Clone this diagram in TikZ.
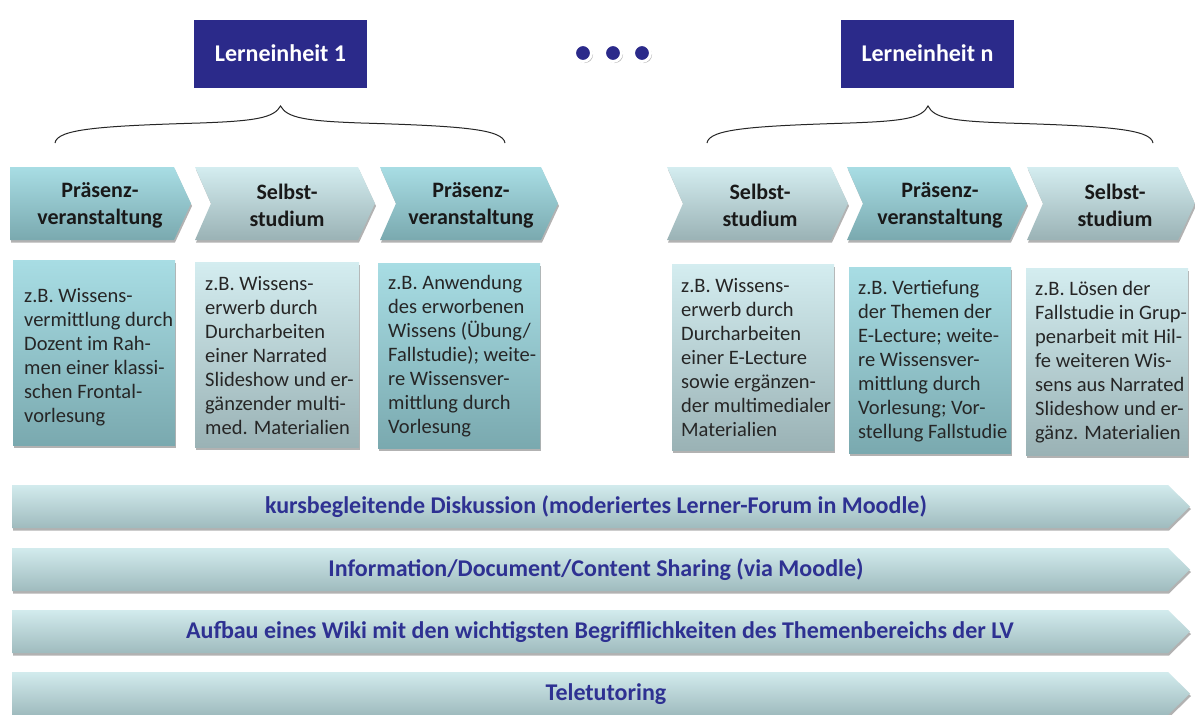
\documentclass[tikz,border=0pt]{standalone}
\usepackage{fontspec}
\setmainfont{Carlito}
\usetikzlibrary{shadows}
\definecolor{navy}{HTML}{2B2A8A}
\definecolor{pTop}{HTML}{A8DDE4}
\definecolor{pBot}{HTML}{7AA9AF}
\definecolor{sTop}{HTML}{D4EDF0}
\definecolor{sBot}{HTML}{9AB2B5}
\definecolor{aTop}{HTML}{D2EBED}
\definecolor{aBot}{HTML}{9FBBBE}
\definecolor{txtnavy}{HTML}{2E3192}
\tikzset{
  shad/.style={drop shadow={shadow xshift=1pt,shadow yshift=-2.5pt,opacity=0.3,fill=black}},
  praes/.style={top color=pTop,bottom color=pBot,shad},
  selbst/.style={top color=sTop,bottom color=sBot,shad},
  bar/.style={top color=aTop,bottom color=aBot,shad},
  chevtext/.style={font=\fontsize{22}{27}\selectfont\bfseries,align=center,text=black!90,inner sep=0pt},
  boxtext/.style={font=\fontsize{20.5}{24}\selectfont,align=left,anchor=west,inner sep=0pt,text=black!85},
  bartext/.style={font=\fontsize{24}{28}\selectfont\bfseries,text=txtnavy,inner sep=0pt},
  unitbox/.style={fill=navy,draw=white,line width=5pt,minimum width=178pt,minimum height=73pt,
     text=white,font=\fontsize{24}{28}\selectfont\bfseries,
     drop shadow={shadow xshift=1pt,shadow yshift=-2.5pt,opacity=0.45,fill=black}},
  dotnode/.style={circle,fill=navy,draw=white,line width=3pt,minimum size=17pt,inner sep=0pt,
     drop shadow={shadow xshift=1.5pt,shadow yshift=-1.5pt,opacity=0.35,fill=black}},
  bracestyle/.style={draw=black!85,line width=1pt}
}
\begin{document}
\begin{tikzpicture}[x=1pt,y=-1pt]
\useasboundingbox (0,0) rectangle (1195,715);
\fill[white] (0,0) rectangle (1195,715);

% unit boxes
\node[unitbox] (u1) at (280.5,53.5) {Lerneinheit 1};
\node[unitbox] (un) at (927.5,53.5) {Lerneinheit n};

% dots
\node[dotnode] (d1) at (583,53) {};
\node[dotnode] (d2) at (613,53) {};
\node[dotnode] (d3) at (642,53) {};

% braces
\draw[bracestyle] (55,143) .. controls (57,129) and (100,126) .. (200,123)
  .. controls (255,121) and (274,118) .. (280.5,106)
  .. controls (287,118) and (306,121) .. (361,123)
  .. controls (461,126) and (503,129) .. (505,143);
\draw[bracestyle] (707,143) .. controls (709,129) and (752,126) .. (850,123)
  .. controls (905,121) and (922,118) .. (928,106)
  .. controls (934,118) and (951,121) .. (1006,123)
  .. controls (1106,126) and (1151,129) .. (1153,143);

% chevrons
\path[praes] (10,167) -- (174,167) -- (191,203.5) -- (174,240) -- (10,240) -- cycle;
\path[selbst] (195,167) -- (358,167) -- (375,203.5) -- (358,240) -- (195,240) -- (211,203.5) -- cycle;
\path[praes] (380,167) -- (541,167) -- (558,203.5) -- (541,240) -- (380,240) -- (396,203.5) -- cycle;
\path[selbst] (667,167) -- (831,167) -- (848,203.5) -- (831,240) -- (667,240) -- (683,203.5) -- cycle;
\path[praes] (847,167) -- (1010,167) -- (1027,203.5) -- (1010,240) -- (847,240) -- (863,203.5) -- cycle;
\path[selbst] (1027,167) -- (1178,167) -- (1195,203.5) -- (1178,240) -- (1027,240) -- (1043,203.5) -- cycle;

\node[chevtext] (c1) at (100,205) {Präsenz-\\veranstaltung};
\node[chevtext] (c2) at (287,205) {Selbst-\\studium};
\node[chevtext] (c3) at (471,205) {Präsenz-\\veranstaltung};
\node[chevtext] (c4) at (760,205) {Selbst-\\studium};
\node[chevtext] (c5) at (940,205) {Präsenz-\\veranstaltung};
\node[chevtext] (c6) at (1115,205) {Selbst-\\studium};

% description boxes
\path[praes] (13,260) rectangle (175,445);
\path[selbst] (195,262) rectangle (359,447);
\path[praes] (378,263) rectangle (540,448);
\path[selbst] (672,264) rectangle (834,450);
\path[praes] (849,267) rectangle (1011,453);
\path[selbst] (1026,268) rectangle (1188,455);

\node[boxtext] (t1) at (24,357) {z.B. Wissens-\\vermittlung durch\\Dozent im Rah-\\men einer klassi-\\schen Frontal-\\vorlesung};
\node[boxtext] (t2) at (205,356) {z.B. Wissens-\\erwerb durch\\Durcharbeiten\\einer Narrated\\Slideshow und er-\\gänzender multi-\\med. Materialien};
\node[boxtext] (t3) at (388,356) {z.B. Anwendung\\des erworbenen\\Wissens (Übung/\\Fallstudie); weite-\\re Wissensver-\\mittlung durch\\Vorlesung};
\node[boxtext] (t4) at (681,358) {z.B. Wissens-\\erwerb durch\\Durcharbeiten\\einer E-Lecture\\sowie ergänzen-\\der multimedialer\\Materialien};
\node[boxtext] (t5) at (858,361) {z.B. Vertiefung\\der Themen der\\E-Lecture; weite-\\re Wissensver-\\mittlung durch\\Vorlesung; Vor-\\stellung Fallstudie};
\node[boxtext] (t6) at (1035,362) {z.B. Lösen der\\Fallstudie in Grup-\\penarbeit mit Hil-\\fe weiteren Wis-\\sens aus Narrated\\Slideshow und er-\\gänz. Materialien};

% long bars
\path[bar] (12,485) -- (1168,485) -- (1190,506.5) -- (1168,528) -- (12,528) -- cycle;
\path[bar] (12,548) -- (1168,548) -- (1190,569.5) -- (1168,591) -- (12,591) -- cycle;
\path[bar] (12,610) -- (1168,610) -- (1190,631.5) -- (1168,653) -- (12,653) -- cycle;
\path[bar] (12,672) -- (1168,672) -- (1190,693.5) -- (1168,715) -- (12,715) -- cycle;

\node[bartext] (b1) at (596,507) {kursbegleitende Diskussion (moderiertes Lerner-Forum in Moodle)};
\node[bartext] (b2) at (596,570) {Information/Document/Content Sharing (via Moodle)};
\node[bartext] (b3) at (600,632) {Aufbau eines Wiki mit den wichtigsten Begrifflichkeiten des Themenbereichs der LV};
\node[bartext] (b4) at (606,694) {Teletutoring};
\end{tikzpicture}
\end{document}
